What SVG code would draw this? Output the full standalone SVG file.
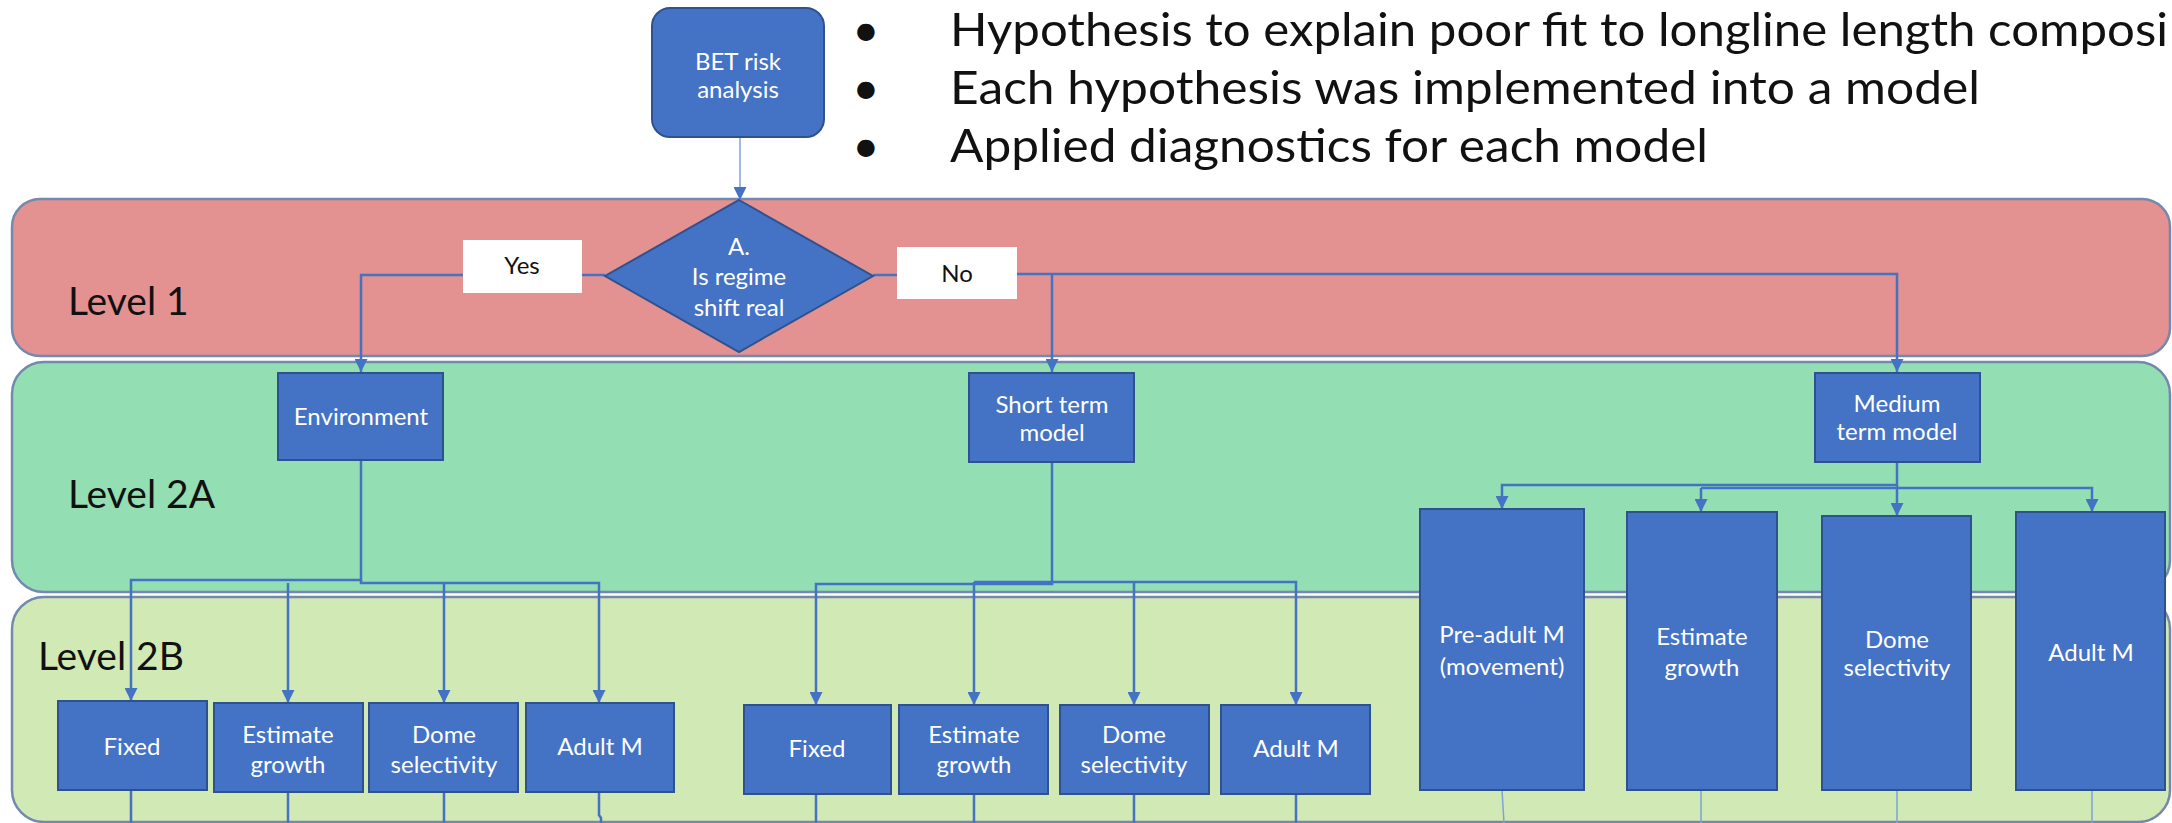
<svg xmlns="http://www.w3.org/2000/svg" width="2172" height="823" viewBox="0 0 2172 823">
<defs>
<marker id="ah" viewBox="0 0 12 12" refX="12" refY="6" markerWidth="13" markerHeight="13" markerUnits="userSpaceOnUse" orient="auto"><path d="M0,0 L12,6 L0,12 z" fill="#4472C4"/></marker>
<style>
.band{stroke:#7489ad;stroke-width:2.5}
.box{fill:#4472C4;stroke:#2F528F;stroke-width:2}
.lbl{font-family:Lato,'Liberation Sans',sans-serif;font-size:24px;fill:#ffffff;text-anchor:middle}
.lvl{font-family:Lato,'Liberation Sans',sans-serif;font-size:39px;fill:#111111}
.bul{font-family:Lato,'Liberation Sans',sans-serif;font-size:47px;fill:#111111}
.yn{font-family:Lato,'Liberation Sans',sans-serif;font-size:24px;fill:#111111;text-anchor:middle}
.con{fill:none;stroke:#4472C4;stroke-width:2.5}
.thin{fill:none;stroke:#7fa3d6;stroke-width:1.5}
</style>
</defs>
<rect x="0" y="0" width="2172" height="823" fill="#ffffff"/>

<g id="bands">
<rect id="level1" class="band" x="12" y="199" width="2158" height="157" rx="28" fill="#E39191"/>
<rect id="level2a" class="band" x="12" y="362" width="2158" height="230" rx="32" fill="#93DEB3"/>
<rect id="level2b" class="band" x="12" y="597" width="2158" height="225" rx="32" fill="#D0E9B5"/>
<text class="lvl" x="68" y="315">Level 1</text>
<text class="lvl" x="68" y="508">Level 2A</text>
<text class="lvl" x="38" y="670">Level 2B</text>
</g>

<g id="bullets">
<text class="bul" x="866" y="46" text-anchor="middle">•</text>
<text class="bul" x="866" y="104" text-anchor="middle">•</text>
<text class="bul" x="866" y="162" text-anchor="middle">•</text>
<text class="bul" x="950" y="46" textLength="1218" lengthAdjust="spacingAndGlyphs">Hypothesis to explain poor fit to longline length composi</text>
<text class="bul" x="950" y="104" textLength="1030" lengthAdjust="spacingAndGlyphs">Each hypothesis was implemented into a model</text>
<text class="bul" x="950" y="162" textLength="758" lengthAdjust="spacingAndGlyphs">Applied diagnostics for each model</text>
</g>

<g id="connectors">
<path class="thin" d="M740 137 V200" marker-end="url(#ah)"/>
<path class="con" d="M605 275 H582"/>
<path class="con" d="M463 275 H361 V372" marker-end="url(#ah)"/>
<path class="con" d="M873 275 H897"/>
<path class="con" d="M1017 274 H1897 V372" marker-end="url(#ah)"/>
<path class="con" d="M1052 274 V372" marker-end="url(#ah)"/>
<path class="con" d="M361 460 V580 H131 V701" marker-end="url(#ah)"/>
<path class="con" d="M361 580 V583 H599 V703" marker-end="url(#ah)"/>
<path class="con" d="M288 583 V703" marker-end="url(#ah)"/>
<path class="con" d="M444 583 V703" marker-end="url(#ah)"/>
<path class="con" d="M1052 462 V584 H816 V705" marker-end="url(#ah)"/>
<path class="con" d="M974 582 H1296 V705" marker-end="url(#ah)"/>
<path class="con" d="M974 582 V705" marker-end="url(#ah)"/>
<path class="con" d="M1134 582 V705" marker-end="url(#ah)"/>
<path class="con" d="M1897 462 V485 H1502 V509" marker-end="url(#ah)"/>
<path class="con" d="M1701 488 H2092 V512" marker-end="url(#ah)"/>
<path class="con" d="M1701 488 V512" marker-end="url(#ah)"/>
<path class="con" d="M1897 485 V516" marker-end="url(#ah)"/>
<path class="con" d="M131 790 V823 M288 792 V823 M444 792 V823 M599 792 V815 L601 818 V823"/>
<path class="con" d="M816 794 V823 M974 794 V823 M1134 794 V823 M1296 794 V823"/>
<path class="thin" d="M1502 790 L1504 823 M1701 790 V823 M1897 790 V823 M2092 790 V823"/>
</g>

<g id="bet">
<rect class="box" x="652" y="8" width="172" height="129" rx="18"/>
<text class="lbl" x="738" y="70">BET risk</text>
<text class="lbl" x="738" y="98">analysis</text>
</g>

<g id="decision">
<polygon class="box" points="739,200 873,276 739,352 605,276"/>
<text class="lbl" x="739" y="255">A.</text>
<text class="lbl" x="739" y="285">Is regime</text>
<text class="lbl" x="739" y="316">shift real</text>
</g>

<g id="yes">
<rect x="463" y="240" width="119" height="53" fill="#ffffff"/>
<text class="yn" x="522" y="274">Yes</text>
</g>
<g id="no">
<rect x="897" y="247" width="120" height="52" fill="#ffffff"/>
<text class="yn" x="957" y="282">No</text>
</g>

<g id="environment">
<rect class="box" x="278" y="373" width="165" height="87"/>
<text class="lbl" x="361" y="425">Environment</text>
</g>
<g id="short-term">
<rect class="box" x="969" y="373" width="165" height="89"/>
<text class="lbl" x="1052" y="413">Short term</text>
<text class="lbl" x="1052" y="441">model</text>
</g>
<g id="medium-term">
<rect class="box" x="1815" y="373" width="165" height="89"/>
<text class="lbl" x="1897" y="412">Medium</text>
<text class="lbl" x="1897" y="440">term model</text>
</g>

<g id="env-fixed">
<rect class="box" x="58" y="701" width="149" height="89"/>
<text class="lbl" x="132" y="755">Fixed</text>
</g>
<g id="env-growth">
<rect class="box" x="214" y="703" width="149" height="89"/>
<text class="lbl" x="288" y="743">Estimate</text>
<text class="lbl" x="288" y="773">growth</text>
</g>
<g id="env-dome">
<rect class="box" x="369" y="703" width="149" height="89"/>
<text class="lbl" x="444" y="743">Dome</text>
<text class="lbl" x="444" y="773">selectivity</text>
</g>
<g id="env-adult">
<rect class="box" x="526" y="703" width="148" height="89"/>
<text class="lbl" x="600" y="755">Adult M</text>
</g>

<g id="st-fixed">
<rect class="box" x="744" y="705" width="147" height="89"/>
<text class="lbl" x="817" y="757">Fixed</text>
</g>
<g id="st-growth">
<rect class="box" x="899" y="705" width="149" height="89"/>
<text class="lbl" x="974" y="743">Estimate</text>
<text class="lbl" x="974" y="773">growth</text>
</g>
<g id="st-dome">
<rect class="box" x="1060" y="705" width="149" height="89"/>
<text class="lbl" x="1134" y="743">Dome</text>
<text class="lbl" x="1134" y="773">selectivity</text>
</g>
<g id="st-adult">
<rect class="box" x="1221" y="705" width="149" height="89"/>
<text class="lbl" x="1296" y="757">Adult M</text>
</g>

<g id="mt-preadult">
<rect class="box" x="1420" y="509" width="164" height="281"/>
<text class="lbl" x="1502" y="643">Pre-adult M</text>
<text class="lbl" x="1502" y="675">(movement)</text>
</g>
<g id="mt-growth">
<rect class="box" x="1627" y="512" width="150" height="278"/>
<text class="lbl" x="1702" y="645">Estimate</text>
<text class="lbl" x="1702" y="676">growth</text>
</g>
<g id="mt-dome">
<rect class="box" x="1822" y="516" width="149" height="274"/>
<text class="lbl" x="1897" y="648">Dome</text>
<text class="lbl" x="1897" y="676">selectivity</text>
</g>
<g id="mt-adult">
<rect class="box" x="2016" y="512" width="149" height="278"/>
<text class="lbl" x="2091" y="661">Adult M</text>
</g>
</svg>
